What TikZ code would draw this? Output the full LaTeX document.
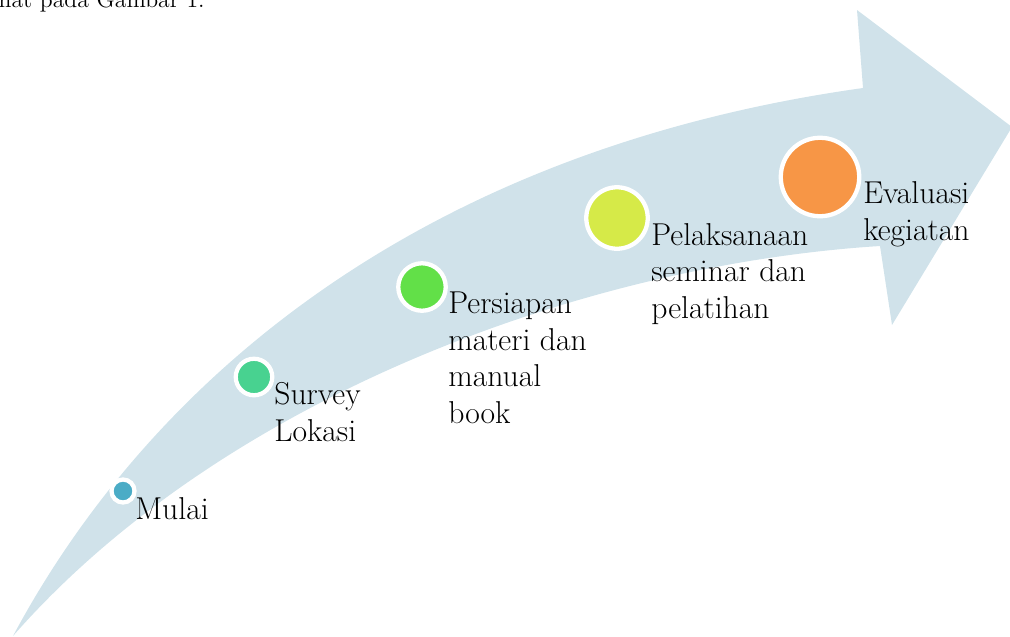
\documentclass[tikz,border=0pt]{standalone}
\usepackage{tikz}
\definecolor{panah}{RGB}{208,226,234}
\definecolor{cmulai}{RGB}{75,172,198}
\definecolor{csurvey}{RGB}{72,210,144}
\definecolor{cpersiapan}{RGB}{98,224,72}
\definecolor{cpelaksanaan}{RGB}{214,234,72}
\definecolor{cevaluasi}{RGB}{247,150,70}
\begin{document}
\begin{tikzpicture}[line join=miter,x=0.02cm,y=-0.02cm,font=\fontsize{18}{20.7}\selectfont]
	\tikzset{titik/.style={circle,draw=white,line width=2.44pt,inner sep=0pt},
		ket/.style={anchor=base west,align=left,inner sep=0pt}}
	\useasboundingbox (0,0) rectangle (1010,636);
	\clip (0,0) rectangle (1010,636);
	\node[anchor=base east,inner sep=0pt,font=\fontsize{13.5}{16}\selectfont] (teks) at (205,7) {terlihat pada Gambar 1.};
	%--------- Panah
	\fill[panah] (13,636) .. controls (150,380) and (420,150) .. (863,88) -- (857,10) -- (1012,127)
		-- (892,325) -- (880,246) .. controls (580,265) and (220,400) .. cycle;
	%--------- Tahapan
	\node[titik,fill=cmulai,minimum size=0.46cm] (mulai) at (123,491) {};
	\node[titik,fill=csurvey,minimum size=0.73cm] (survey) at (254,377) {};
	\node[titik,fill=cpersiapan,minimum size=0.95cm] (persiapan) at (422,287) {};
	\node[titik,fill=cpelaksanaan,minimum size=1.23cm] (pelaksanaan) at (617,218) {};
	\node[titik,fill=cevaluasi,minimum size=1.57cm] (evaluasi) at (820,177) {};
	%--------- Keterangan (base = baris terakhir)
	\node[ket] (tmulai) at (135,519) {Mulai};
	\node[ket] (tsurvey) at (274,441) {Survey\\Lokasi};
	\node[ket] (tpersiapan) at (448,423) {Persiapan\\materi dan\\manual\\book};
	\node[ket] (tpelaksanaan) at (651,318) {Pelaksanaan\\seminar dan\\pelatihan};
	\node[ket] (tevaluasi) at (863,240) {Evaluasi\\kegiatan};
\end{tikzpicture}
\end{document}
